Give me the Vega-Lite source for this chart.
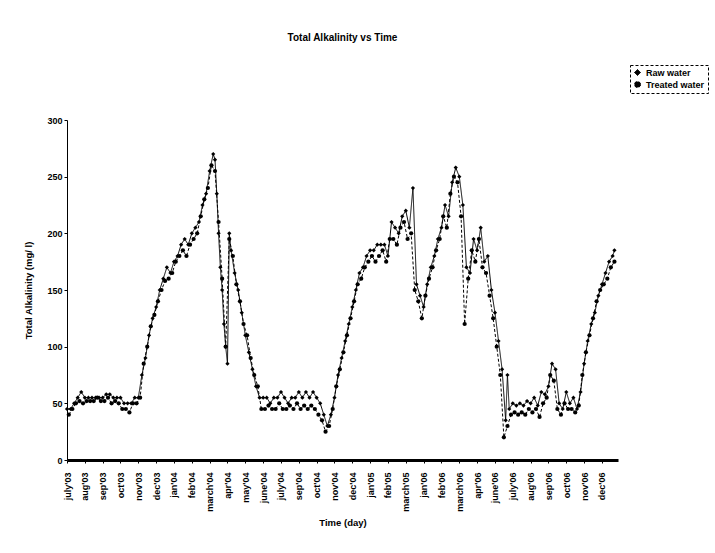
{
  "$schema": "https://vega.github.io/schema/vega-lite/v6.json",
  "width": 551,
  "height": 340,
  "autosize": "none",
  "padding": {"left": 67, "top": 120, "right": 97, "bottom": 93},
  "background": "white",
  "title": {"text": "Total Alkalinity vs Time", "font": "Liberation Sans", "fontSize": 10, "fontWeight": "bold", "color": "black", "anchor": "middle", "frame": "group", "offset": 22},
  "config": {
    "view": {"stroke": null},
    "axis": {"grid": false, "domainColor": "black", "tickColor": "black", "labelColor": "black", "titleColor": "black", "labelFont": "Liberation Sans", "titleFont": "Liberation Sans", "labelFontWeight": "bold", "titleFontWeight": "bold", "labelFontSize": 9, "titleFontSize": 9.5},
    "legend": {"title": null, "orient": "none", "legendX": 563, "legendY": -55, "labelFont": "Liberation Sans", "labelFontWeight": "bold", "labelFontSize": 9, "labelColor": "black", "symbolSize": 36, "symbolFillColor": "black", "symbolStrokeColor": "black", "symbolStrokeWidth": 1, "rowPadding": 1, "padding": 3, "strokeColor": "black"}
  },
  "datasets": {
    "alk": [
      {"d":0,"s":"Raw water","v":45},{"d":2,"s":"Raw water","v":45},{"d":4,"s":"Raw water","v":50},{"d":6,"s":"Raw water","v":55},{"d":8,"s":"Raw water","v":60},{"d":10,"s":"Raw water","v":55},{"d":12,"s":"Raw water","v":55},{"d":14,"s":"Raw water","v":55},{"d":16,"s":"Raw water","v":55},{"d":18,"s":"Raw water","v":55},{"d":20,"s":"Raw water","v":55},{"d":22,"s":"Raw water","v":58},{"d":24,"s":"Raw water","v":58},{"d":26,"s":"Raw water","v":55},{"d":28,"s":"Raw water","v":55},{"d":30,"s":"Raw water","v":55},{"d":32,"s":"Raw water","v":50},{"d":34,"s":"Raw water","v":50},{"d":36,"s":"Raw water","v":50},{"d":38,"s":"Raw water","v":55},{"d":40,"s":"Raw water","v":55},{"d":42,"s":"Raw water","v":75},{"d":44,"s":"Raw water","v":90},{"d":46,"s":"Raw water","v":110},{"d":48,"s":"Raw water","v":125},{"d":50,"s":"Raw water","v":135},{"d":52,"s":"Raw water","v":150},{"d":54,"s":"Raw water","v":160},{"d":56,"s":"Raw water","v":170},{"d":58,"s":"Raw water","v":165},{"d":60,"s":"Raw water","v":175},{"d":62,"s":"Raw water","v":180},{"d":64,"s":"Raw water","v":190},{"d":66,"s":"Raw water","v":195},{"d":68,"s":"Raw water","v":190},{"d":70,"s":"Raw water","v":200},{"d":72,"s":"Raw water","v":205},{"d":74,"s":"Raw water","v":210},{"d":76,"s":"Raw water","v":225},{"d":78,"s":"Raw water","v":235},{"d":80,"s":"Raw water","v":255},{"d":82,"s":"Raw water","v":270},{"d":83,"s":"Raw water","v":265},{"d":84,"s":"Raw water","v":235},{"d":85,"s":"Raw water","v":200},{"d":86,"s":"Raw water","v":170},{"d":87,"s":"Raw water","v":150},{"d":88,"s":"Raw water","v":120},{"d":89,"s":"Raw water","v":100},{"d":90,"s":"Raw water","v":85},{"d":91,"s":"Raw water","v":200},{"d":92,"s":"Raw water","v":185},{"d":94,"s":"Raw water","v":165},{"d":96,"s":"Raw water","v":150},{"d":98,"s":"Raw water","v":130},{"d":100,"s":"Raw water","v":110},{"d":102,"s":"Raw water","v":95},{"d":104,"s":"Raw water","v":80},{"d":106,"s":"Raw water","v":65},{"d":108,"s":"Raw water","v":55},{"d":110,"s":"Raw water","v":55},{"d":112,"s":"Raw water","v":55},{"d":114,"s":"Raw water","v":50},{"d":116,"s":"Raw water","v":55},{"d":118,"s":"Raw water","v":55},{"d":120,"s":"Raw water","v":60},{"d":122,"s":"Raw water","v":55},{"d":124,"s":"Raw water","v":50},{"d":126,"s":"Raw water","v":55},{"d":128,"s":"Raw water","v":55},{"d":130,"s":"Raw water","v":60},{"d":132,"s":"Raw water","v":55},{"d":134,"s":"Raw water","v":60},{"d":136,"s":"Raw water","v":55},{"d":138,"s":"Raw water","v":60},{"d":140,"s":"Raw water","v":55},{"d":142,"s":"Raw water","v":50},{"d":144,"s":"Raw water","v":40},{"d":146,"s":"Raw water","v":30},{"d":148,"s":"Raw water","v":40},{"d":150,"s":"Raw water","v":55},{"d":152,"s":"Raw water","v":75},{"d":154,"s":"Raw water","v":90},{"d":156,"s":"Raw water","v":105},{"d":158,"s":"Raw water","v":120},{"d":160,"s":"Raw water","v":135},{"d":162,"s":"Raw water","v":150},{"d":164,"s":"Raw water","v":165},{"d":166,"s":"Raw water","v":170},{"d":168,"s":"Raw water","v":180},{"d":170,"s":"Raw water","v":185},{"d":172,"s":"Raw water","v":185},{"d":174,"s":"Raw water","v":190},{"d":176,"s":"Raw water","v":190},{"d":178,"s":"Raw water","v":190},{"d":180,"s":"Raw water","v":180},{"d":182,"s":"Raw water","v":210},{"d":184,"s":"Raw water","v":205},{"d":186,"s":"Raw water","v":200},{"d":188,"s":"Raw water","v":215},{"d":190,"s":"Raw water","v":220},{"d":192,"s":"Raw water","v":205},{"d":194,"s":"Raw water","v":240},{"d":196,"s":"Raw water","v":155},{"d":198,"s":"Raw water","v":145},{"d":200,"s":"Raw water","v":135},{"d":202,"s":"Raw water","v":155},{"d":204,"s":"Raw water","v":170},{"d":206,"s":"Raw water","v":180},{"d":208,"s":"Raw water","v":195},{"d":210,"s":"Raw water","v":205},{"d":212,"s":"Raw water","v":225},{"d":214,"s":"Raw water","v":215},{"d":216,"s":"Raw water","v":245},{"d":218,"s":"Raw water","v":258},{"d":220,"s":"Raw water","v":250},{"d":222,"s":"Raw water","v":225},{"d":224,"s":"Raw water","v":170},{"d":226,"s":"Raw water","v":165},{"d":228,"s":"Raw water","v":195},{"d":230,"s":"Raw water","v":185},{"d":232,"s":"Raw water","v":205},{"d":234,"s":"Raw water","v":175},{"d":236,"s":"Raw water","v":180},{"d":238,"s":"Raw water","v":150},{"d":240,"s":"Raw water","v":130},{"d":242,"s":"Raw water","v":105},{"d":244,"s":"Raw water","v":80},{"d":246,"s":"Raw water","v":35},{"d":247,"s":"Raw water","v":75},{"d":248,"s":"Raw water","v":45},{"d":250,"s":"Raw water","v":50},{"d":252,"s":"Raw water","v":48},{"d":254,"s":"Raw water","v":50},{"d":256,"s":"Raw water","v":48},{"d":258,"s":"Raw water","v":52},{"d":260,"s":"Raw water","v":50},{"d":262,"s":"Raw water","v":55},{"d":264,"s":"Raw water","v":48},{"d":266,"s":"Raw water","v":60},{"d":268,"s":"Raw water","v":58},{"d":270,"s":"Raw water","v":65},{"d":272,"s":"Raw water","v":85},{"d":274,"s":"Raw water","v":80},{"d":276,"s":"Raw water","v":50},{"d":278,"s":"Raw water","v":45},{"d":280,"s":"Raw water","v":60},{"d":282,"s":"Raw water","v":50},{"d":284,"s":"Raw water","v":55},{"d":286,"s":"Raw water","v":45},{"d":288,"s":"Raw water","v":60},{"d":290,"s":"Raw water","v":85},{"d":292,"s":"Raw water","v":105},{"d":294,"s":"Raw water","v":120},{"d":296,"s":"Raw water","v":130},{"d":298,"s":"Raw water","v":145},{"d":300,"s":"Raw water","v":155},{"d":302,"s":"Raw water","v":165},{"d":304,"s":"Raw water","v":175},{"d":306,"s":"Raw water","v":180},{"d":307,"s":"Raw water","v":185},
      {"d":1,"s":"Treated water","v":40},{"d":3,"s":"Treated water","v":45},{"d":5,"s":"Treated water","v":50},{"d":7,"s":"Treated water","v":52},{"d":9,"s":"Treated water","v":50},{"d":11,"s":"Treated water","v":52},{"d":13,"s":"Treated water","v":52},{"d":15,"s":"Treated water","v":52},{"d":17,"s":"Treated water","v":55},{"d":19,"s":"Treated water","v":52},{"d":21,"s":"Treated water","v":52},{"d":23,"s":"Treated water","v":55},{"d":25,"s":"Treated water","v":50},{"d":27,"s":"Treated water","v":52},{"d":29,"s":"Treated water","v":50},{"d":31,"s":"Treated water","v":45},{"d":33,"s":"Treated water","v":45},{"d":35,"s":"Treated water","v":42},{"d":37,"s":"Treated water","v":50},{"d":39,"s":"Treated water","v":50},{"d":41,"s":"Treated water","v":55},{"d":43,"s":"Treated water","v":85},{"d":45,"s":"Treated water","v":100},{"d":47,"s":"Treated water","v":118},{"d":49,"s":"Treated water","v":128},{"d":51,"s":"Treated water","v":140},{"d":53,"s":"Treated water","v":150},{"d":55,"s":"Treated water","v":158},{"d":57,"s":"Treated water","v":160},{"d":59,"s":"Treated water","v":165},{"d":61,"s":"Treated water","v":175},{"d":63,"s":"Treated water","v":180},{"d":65,"s":"Treated water","v":185},{"d":67,"s":"Treated water","v":180},{"d":69,"s":"Treated water","v":190},{"d":71,"s":"Treated water","v":195},{"d":73,"s":"Treated water","v":200},{"d":75,"s":"Treated water","v":215},{"d":77,"s":"Treated water","v":230},{"d":79,"s":"Treated water","v":240},{"d":81,"s":"Treated water","v":260},{"d":83,"s":"Treated water","v":255},{"d":85,"s":"Treated water","v":210},{"d":87,"s":"Treated water","v":160},{"d":89,"s":"Treated water","v":100},{"d":91,"s":"Treated water","v":195},{"d":93,"s":"Treated water","v":180},{"d":95,"s":"Treated water","v":155},{"d":97,"s":"Treated water","v":140},{"d":99,"s":"Treated water","v":120},{"d":101,"s":"Treated water","v":110},{"d":103,"s":"Treated water","v":90},{"d":105,"s":"Treated water","v":75},{"d":107,"s":"Treated water","v":65},{"d":109,"s":"Treated water","v":45},{"d":111,"s":"Treated water","v":45},{"d":113,"s":"Treated water","v":48},{"d":115,"s":"Treated water","v":45},{"d":117,"s":"Treated water","v":45},{"d":119,"s":"Treated water","v":50},{"d":121,"s":"Treated water","v":45},{"d":123,"s":"Treated water","v":45},{"d":125,"s":"Treated water","v":48},{"d":127,"s":"Treated water","v":45},{"d":129,"s":"Treated water","v":50},{"d":131,"s":"Treated water","v":45},{"d":133,"s":"Treated water","v":48},{"d":135,"s":"Treated water","v":45},{"d":137,"s":"Treated water","v":48},{"d":139,"s":"Treated water","v":45},{"d":141,"s":"Treated water","v":40},{"d":143,"s":"Treated water","v":35},{"d":145,"s":"Treated water","v":25},{"d":147,"s":"Treated water","v":30},{"d":149,"s":"Treated water","v":45},{"d":151,"s":"Treated water","v":65},{"d":153,"s":"Treated water","v":80},{"d":155,"s":"Treated water","v":95},{"d":157,"s":"Treated water","v":110},{"d":159,"s":"Treated water","v":125},{"d":161,"s":"Treated water","v":140},{"d":163,"s":"Treated water","v":155},{"d":165,"s":"Treated water","v":160},{"d":167,"s":"Treated water","v":170},{"d":169,"s":"Treated water","v":175},{"d":171,"s":"Treated water","v":180},{"d":173,"s":"Treated water","v":175},{"d":175,"s":"Treated water","v":180},{"d":177,"s":"Treated water","v":185},{"d":179,"s":"Treated water","v":175},{"d":181,"s":"Treated water","v":195},{"d":183,"s":"Treated water","v":195},{"d":185,"s":"Treated water","v":190},{"d":187,"s":"Treated water","v":205},{"d":189,"s":"Treated water","v":210},{"d":191,"s":"Treated water","v":195},{"d":193,"s":"Treated water","v":200},{"d":195,"s":"Treated water","v":150},{"d":197,"s":"Treated water","v":140},{"d":199,"s":"Treated water","v":125},{"d":201,"s":"Treated water","v":145},{"d":203,"s":"Treated water","v":160},{"d":205,"s":"Treated water","v":170},{"d":207,"s":"Treated water","v":185},{"d":209,"s":"Treated water","v":195},{"d":211,"s":"Treated water","v":215},{"d":213,"s":"Treated water","v":205},{"d":215,"s":"Treated water","v":235},{"d":217,"s":"Treated water","v":250},{"d":219,"s":"Treated water","v":245},{"d":221,"s":"Treated water","v":215},{"d":223,"s":"Treated water","v":120},{"d":225,"s":"Treated water","v":160},{"d":227,"s":"Treated water","v":185},{"d":229,"s":"Treated water","v":175},{"d":231,"s":"Treated water","v":195},{"d":233,"s":"Treated water","v":170},{"d":235,"s":"Treated water","v":165},{"d":237,"s":"Treated water","v":145},{"d":239,"s":"Treated water","v":125},{"d":241,"s":"Treated water","v":100},{"d":243,"s":"Treated water","v":75},{"d":245,"s":"Treated water","v":20},{"d":247,"s":"Treated water","v":30},{"d":249,"s":"Treated water","v":40},{"d":251,"s":"Treated water","v":42},{"d":253,"s":"Treated water","v":40},{"d":255,"s":"Treated water","v":42},{"d":257,"s":"Treated water","v":40},{"d":259,"s":"Treated water","v":45},{"d":261,"s":"Treated water","v":42},{"d":263,"s":"Treated water","v":45},{"d":265,"s":"Treated water","v":38},{"d":267,"s":"Treated water","v":50},{"d":269,"s":"Treated water","v":55},{"d":271,"s":"Treated water","v":75},{"d":273,"s":"Treated water","v":70},{"d":275,"s":"Treated water","v":45},{"d":277,"s":"Treated water","v":40},{"d":279,"s":"Treated water","v":50},{"d":281,"s":"Treated water","v":45},{"d":283,"s":"Treated water","v":45},{"d":285,"s":"Treated water","v":42},{"d":287,"s":"Treated water","v":48},{"d":289,"s":"Treated water","v":75},{"d":291,"s":"Treated water","v":95},{"d":293,"s":"Treated water","v":110},{"d":295,"s":"Treated water","v":125},{"d":297,"s":"Treated water","v":140},{"d":299,"s":"Treated water","v":150},{"d":301,"s":"Treated water","v":155},{"d":303,"s":"Treated water","v":160},{"d":305,"s":"Treated water","v":170},{"d":307,"s":"Treated water","v":175}
    ]
  },
  "data": {"name": "alk"},
  "encoding": {
    "x": {"field": "d", "type": "quantitative", "title": "Time (day)",
      "scale": {"domain": [0, 309], "nice": false, "zero": false},
      "axis": {"values": [0,10,20,30,40,50,60,70,80,90,100,110,120,130,140,150,160,170,180,190,200,210,220,230,240,250,260,270,280,290,300],
        "labelExpr": "[\"july'03\",\"aug'03\",\"sep'03\",\"oct'03\",\"nov'03\",\"dec'03\",\"jan'04\",\"feb'04\",\"march'04\",\"apr'04\",\"may'04\",\"june'04\",\"july'04\",\"sep'04\",\"oct'04\",\"nov'04\",\"dec'04\",\"jan'05\",\"feb'05\",\"march'05\",\"jan'06\",\"feb'06\",\"march'06\",\"apr'06\",\"june'06\",\"july'06\",\"aug'06\",\"sep'06\",\"oct'06\",\"nov'06\",\"dec'06\"][round(datum.value/10)]",
        "labelAngle": -90, "labelAlign": "right", "labelBaseline": "middle", "labelPadding": 9, "tickSize": 3, "domainWidth": 3, "titlePadding": 6, "labelOverlap": false, "labelBound": false, "labelFlush": false}},
    "y": {"field": "v", "type": "quantitative", "title": "Total Alkalinity (mg/ l)",
      "scale": {"domain": [0, 300], "nice": false},
      "axis": {"values": [0,50,100,150,200,250,300], "tickSize": 3, "labelPadding": 2, "titlePadding": 13, "domainWidth": 1}}
  },
  "layer": [
    {"mark": {"type": "line", "color": "black", "strokeWidth": 1},
     "encoding": {"strokeDash": {"field": "s", "type": "nominal", "scale": {"domain": ["Raw water", "Treated water"], "range": [[1, 0], [3, 2]]},
       "legend": {"encode": {"legend": {"update": {"strokeDash": {"value": [3, 2]}, "strokeWidth": {"value": 1}}}}}}}},
    {"mark": {"type": "point", "filled": true, "color": "black", "opacity": 1, "size": 18},
     "encoding": {"shape": {"field": "s", "type": "nominal", "scale": {"domain": ["Raw water", "Treated water"], "range": ["diamond", "circle"]},
       "legend": {"encode": {"legend": {"update": {"strokeDash": {"value": [3, 2]}, "strokeWidth": {"value": 1}}}}}}}}
  ]
}
